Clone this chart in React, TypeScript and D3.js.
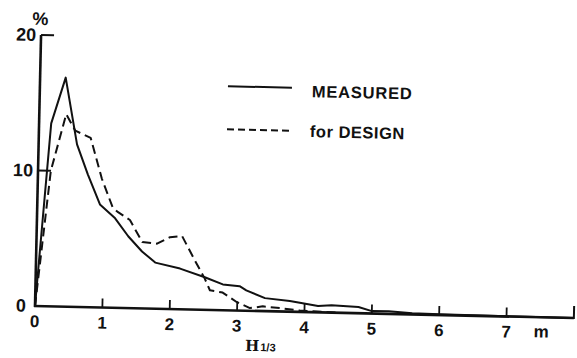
import React from "react";
import * as d3 from "d3";

// Wave-height distribution: frequency (%) against significant wave height H1/3 (m)
const measuredH = [0, 0.18, 0.38, 0.57, 0.74, 0.93, 1.16, 1.36, 1.57, 1.77, 2.14, 2.51, 2.78, 3.03, 3.13, 3.41, 3.78, 3.97, 4.2, 4.4, 4.8, 5.0, 5.25, 5.6, 6.0, 7.0, 8.0];
const measuredPct = [0, 13.5, 16.9, 12.0, 9.8, 7.6, 6.6, 5.3, 4.2, 3.4, 3.0, 2.4, 1.9, 1.8, 1.5, 0.96, 0.79, 0.64, 0.46, 0.55, 0.46, 0.18, 0.2, 0.08, 0.05, 0.02, 0];

const designH = [0, 0.19, 0.4, 0.54, 0.77, 0.95, 1.12, 1.19, 1.38, 1.57, 1.79, 1.98, 2.16, 2.36, 2.51, 2.59, 2.78, 2.99, 3.19, 3.38, 3.64, 3.93, 4.5];
const designPct = [0, 10.0, 14.2, 13.0, 12.5, 9.5, 7.4, 7.1, 6.5, 4.9, 4.8, 5.3, 5.4, 3.6, 2.3, 1.45, 1.3, 0.63, 0.2, 0.35, 0.25, 0.1, 0];

const xTicks = [0, 1, 2, 3, 4, 5, 6, 7];
const yTickLabels = [20, 10, 0];
const legendItems = ["MEASURED", "for DESIGN"];

const W = 577;
const H = 358;
const ox = 35;
const oy = 306;
const tilt = 1.28;

const x = d3.scaleLinear().domain([0, 8]).range([ox, 574]);
const y = d3.scaleLinear().domain([0, 20]).range([oy, 35]);

const line = d3
  .line<[number, number]>()
  .x((d) => x(d[0]))
  .y((d) => y(d[1]))
  .curve(d3.curveLinear);

const measured: [number, number][] = measuredH.map((h, i) => [h, measuredPct[i]]);
const design: [number, number][] = designH.map((h, i) => [h, designPct[i]]);

const sans = "'Liberation Sans', Arial, Helvetica, sans-serif";

export default function App() {
  return (
    <svg
      width={W}
      height={H}
      viewBox={`0 0 ${W} ${H}`}
      style={{ position: "absolute", left: 0, top: 0, background: "#fff" }}
    >
      <rect x={0} y={0} width={W} height={H} fill="#fff" />
      <g transform={`rotate(${tilt} ${ox} ${oy})`} fill="#111">
        {/* axes */}
        <line x1={x(0)} y1={y(0) + 1} x2={x(0)} y2={y(20)} stroke="#111" strokeWidth={2.6} />
        <line x1={x(0) - 1} y1={y(0)} x2={x(8)} y2={y(0)} stroke="#111" strokeWidth={2.6} />
        {[20, 10].map((v) => (
          <line key={v} x1={x(0)} y1={y(v)} x2={x(0) + 13} y2={y(v)} stroke="#111" strokeWidth={2} />
        ))}
        {xTicks.slice(1).map((t) => (
          <line key={t} x1={x(t)} y1={y(0)} x2={x(t)} y2={y(0) - 9} stroke="#111" strokeWidth={1.8} />
        ))}
        <line x1={x(8)} y1={y(0) + 1} x2={x(8)} y2={y(0) - 12} stroke="#111" strokeWidth={2} />

        {/* y labels */}
        {yTickLabels.map((v) => (
          <text
            key={v}
            x={v === 0 ? ox - 9 : ox - 5}
            y={y(v) + 6}
            textAnchor="end"
            fontFamily={sans}
            fontWeight="bold"
            fontSize={18}
          >
            {v}
          </text>
        ))}
        <text x={ox - 1} y={25} textAnchor="middle" fontFamily={sans} fontWeight="bold" fontSize={18}>
          %
        </text>

        {/* x labels */}
        {xTicks.map((t) => (
          <text
            key={t}
            x={x(t)}
            y={oy + 21}
            textAnchor="middle"
            fontFamily={sans}
            fontWeight="bold"
            fontSize={17}
          >
            {t}
          </text>
        ))}
        <text x={x(7.52)} y={oy + 20} textAnchor="middle" fontFamily={sans} fontWeight="bold" fontSize={17}>
          m
        </text>
        <text x={246} y={oy + 40} fontFamily="'DejaVu Serif', 'Liberation Serif', serif" fontWeight="bold" fontSize={15}>
          H
          <tspan fontFamily={sans} fontSize={11} dx={1}>
            1/3
          </tspan>
        </text>

        {/* series */}
        <path d={line(measured) ?? ""} fill="none" stroke="#111" strokeWidth={2} strokeLinejoin="round" />
        <path
          d={line(design) ?? ""}
          fill="none"
          stroke="#111"
          strokeWidth={2}
          strokeDasharray="9 5"
          strokeLinejoin="round"
        />

        {/* legend */}
        <line x1={223} y1={82} x2={287} y2={82} stroke="#111" strokeWidth={2} />
        <line x1={223} y1={125} x2={287} y2={125} stroke="#111" strokeWidth={2} strokeDasharray="7 4" />
        <text x={307} y={91} fontFamily={sans} fontWeight="bold" fontSize={16.5} letterSpacing={0.8}>
          {legendItems[0]}
        </text>
        <text x={306} y={131} fontFamily={sans} fontWeight="bold" fontSize={16.5} letterSpacing={0.5}>
          {legendItems[1]}
        </text>
      </g>
    </svg>
  );
}
